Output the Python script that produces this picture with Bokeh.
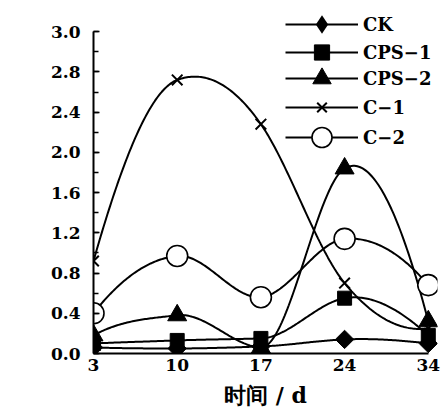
import numpy as np
from bokeh.plotting import figure
from bokeh.models import Range1d, FixedTicker, Legend, LegendItem, Label
from bokeh.embed import file_html
from bokeh.resources import INLINE

# ---- data ----
days = ["3", "10", "17", "24", "34"]
ck = [0.06, 0.05, 0.07, 0.14, 0.10]
cps1 = [0.10, 0.13, 0.15, 0.55, 0.18]
cps2 = [0.18, 0.38, 0.06, 1.84, 0.32]
c1 = [0.92, 2.72, 2.28, 0.70, 0.25]
c2 = [0.40, 0.97, 0.56, 1.14, 0.68]
series_names = ["CK", "CPS\u22121", "CPS\u22122", "C\u22121", "C\u22122"]
y_ticks = [0.0, 0.4, 0.8, 1.2, 1.6, 2.0, 2.4, 2.8, 3.2]
y_tick_labels = ["0.0", "0.4", "0.8", "1.2", "1.6", "2.0", "2.4", "2.8", "3.0"]
x_title = "时间 / d"
y_title = "CAT 酶活力 / U"


def akima(xs, ys, per_seg=60):
    xs = np.asarray(xs, float)
    ys = np.asarray(ys, float)
    n = len(xs)
    s = np.diff(ys) / np.diff(xs)
    sm1 = 2 * s[0] - s[1]
    sm2 = 2 * sm1 - s[0]
    sp1 = 2 * s[-1] - s[-2]
    sp2 = 2 * sp1 - s[-1]
    m = np.concatenate([[sm2, sm1], s, [sp1, sp2]])
    t = np.zeros(n)
    for i in range(n):
        w1 = abs(m[i + 3] - m[i + 2])
        w2 = abs(m[i + 1] - m[i])
        if w1 + w2 > 1e-12:
            t[i] = (w1 * m[i + 1] + w2 * m[i + 2]) / (w1 + w2)
        else:
            t[i] = 0.5 * (m[i + 1] + m[i + 2])
    ox, oy = [], []
    for i in range(n - 1):
        h = xs[i + 1] - xs[i]
        u = np.linspace(0, 1, per_seg, endpoint=(i == n - 2))
        h00 = 2 * u ** 3 - 3 * u ** 2 + 1
        h10 = u ** 3 - 2 * u ** 2 + u
        h01 = -2 * u ** 3 + 3 * u ** 2
        h11 = u ** 3 - u ** 2
        yy = h00 * ys[i] + h10 * h * t[i] + h01 * ys[i + 1] + h11 * h * t[i + 1]
        ox.extend(xs[i] + u * h)
        oy.extend(yy)
    return ox, oy


FONT = "DejaVu Serif"

p = figure(width=441, height=412, output_backend="svg", toolbar_location=None,
           x_range=Range1d(0, 4.11), y_range=Range1d(0, 3.5),
           min_border_left=93, min_border_right=4, min_border_top=1,
           min_border_bottom=59)
p.outline_line_color = None
p.xgrid.visible = False
p.ygrid.visible = False
p.background_fill_color = "white"

xi = list(range(len(days)))

# x axis
p.xaxis.ticker = FixedTicker(ticks=xi)
p.xaxis.major_label_overrides = {i: d for i, d in zip(xi, days)}
p.xaxis.bounds = (0, 4)
p.xaxis.axis_line_width = 2
p.xaxis.major_tick_in = 0
p.xaxis.major_tick_out = 0
p.xaxis.minor_tick_line_color = None
p.xaxis.major_label_text_font = FONT
p.xaxis.major_label_text_font_style = "bold"
p.xaxis.major_label_text_font_size = "17px"
p.xaxis.major_label_text_color = "black"
p.xaxis.major_label_standoff = 5
p.xaxis.axis_label = x_title
p.xaxis.axis_label_text_font = FONT
p.xaxis.axis_label_text_font_style = "bold"
p.xaxis.axis_label_text_font_size = "22px"
p.xaxis.axis_label_text_color = "black"
p.xaxis.axis_label_standoff = 8

# y axis
p.yaxis.ticker = FixedTicker(ticks=y_ticks,
                             minor_ticks=[round(0.2 * k, 2) for k in range(17)])
p.yaxis.major_label_overrides = {t: l for t, l in zip(y_ticks, y_tick_labels)}
p.yaxis.bounds = (0, 3.2)
p.yaxis.axis_line_width = 2
p.yaxis.major_tick_in = 6
p.yaxis.major_tick_out = 0
p.yaxis.minor_tick_in = 5
p.yaxis.minor_tick_out = 0
p.yaxis.major_tick_line_width = 1.5
p.yaxis.minor_tick_line_width = 1.5
p.yaxis.major_label_text_font = FONT
p.yaxis.major_label_text_font_style = "bold"
p.yaxis.major_label_text_font_size = "17px"
p.yaxis.major_label_text_color = "black"
p.yaxis.major_label_standoff = 13

ylab = Label(x=-0.85, y=1.52, text=y_title, angle=np.pi / 2, angle_units="rad",
             text_align="center", text_baseline="middle",
             text_font=FONT, text_font_style="bold", text_font_size="24px",
             text_color="black")
p.add_layout(ylab)

series = [ck, cps1, cps2, c1, c2]
markers = [
    dict(marker="square", size=13, angle=np.pi / 4, fill_color="black", line_color="black"),
    dict(marker="square", size=14, fill_color="black", line_color="black"),
    dict(marker="triangle", size=19, fill_color="black", line_color="black"),
    dict(marker="x", size=15, line_color="black", line_width=2),
    dict(marker="circle", size=21, fill_color="white", line_color="black", line_width=1.6),
]

# legend layout (screen px): row centre from top, glyph box height
FRAME_BOTTOM = 353
LEG_LEFT = 285
row_centres = [24, 52, 78, 107, 137]
glyph_heights = [46, 38, 46, 34, 50]

for k, (name, ys, mk) in enumerate(zip(series_names, series, markers)):
    sx, sy = akima(xi, ys)
    ln = p.line(sx, sy, line_color="black", line_width=2)
    sc = p.scatter(xi, ys, **mk)
    if k == 0:
        # diamond shown in the legend only (size 0 in the plot area)
        sc = p.scatter(xi, ys, marker="diamond", size=0, fill_color="black",
                       line_color=None)
    gh = glyph_heights[k]
    vy = FRAME_BOTTOM - row_centres[k] - gh / 2
    leg = Legend(items=[LegendItem(label=name, renderers=[ln, sc])],
                 location=(LEG_LEFT - 93, vy), glyph_width=73, glyph_height=gh,
                 label_height=20, label_width=72, spacing=0, padding=0, margin=0,
                 label_standoff=5, border_line_color=None, background_fill_alpha=0,
                 label_text_font=FONT, label_text_font_style="bold",
                 label_text_font_size="18px", label_text_color="black")
    p.add_layout(leg)

open("out.html", "w").write(file_html(p, INLINE))
